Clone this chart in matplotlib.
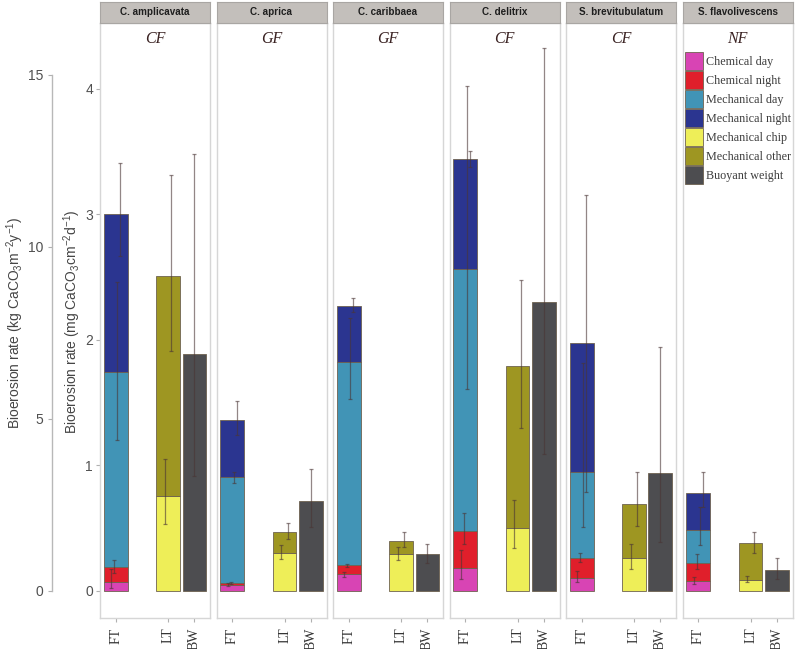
import matplotlib
matplotlib.use("Agg")
import matplotlib.pyplot as plt
import numpy as np

plt.rcParams['font.family'] = ['Liberation Sans', 'DejaVu Sans']
plt.rcParams['mathtext.fontset'] = 'custom'
plt.rcParams['mathtext.rm'] = 'Liberation Sans'
plt.rcParams['mathtext.it'] = 'Liberation Sans:italic'

# ---------------- data ----------------
species = ['C. amplicavata', 'C. aprica', 'C. caribbaea', 'C. delitrix',
           'S. brevitubulatum', 'S. flavolivescens']
growth_form = ['CF', 'GF', 'GF', 'CF', 'CF', 'NF']
methods = ['FT', 'LT', 'BW']

components = ['Chemical day', 'Chemical night', 'Mechanical day', 'Mechanical night',
              'Mechanical chip', 'Mechanical other', 'Buoyant weight']
colors = ['#d844b4', '#e01f2b', '#4194b6', '#2b3590',
          '#eeee58', '#9e9622', '#4d4d50']

# FT stacked segments (mg CaCO3 cm-2 d-1): chem day, chem night, mech day, mech night
ft_chem_day   = [0.070, 0.045, 0.135, 0.180, 0.106, 0.082]
ft_chem_night = [0.120, 0.021, 0.070, 0.300, 0.160, 0.144]
ft_mech_day   = [1.550, 0.842, 1.620, 2.080, 0.682, 0.260]
ft_mech_night = [1.260, 0.457, 0.445, 0.880, 1.025, 0.298]
# LT stacked segments: mech chip, mech other
lt_chip  = [0.757, 0.305, 0.292, 0.502, 0.260, 0.088]
lt_other = [1.753, 0.168, 0.106, 1.288, 0.433, 0.297]
# BW
bw_total = [1.890, 0.717, 0.292, 2.300, 0.938, 0.167]

# error bar ranges (low, high)
err_ft_chem_day   = [(0.026, 0.175), (0.040, 0.060), (0.115, 0.150), (0.093, 0.330), (0.069, 0.162), (0.056, 0.114)]
err_ft_chem_night = [(0.146, 0.250), (0.055, 0.075), (0.195, 0.215), (0.377, 0.624), (0.228, 0.300), (0.173, 0.295)]
err_ft_mech_day   = [(1.203, 2.457), (0.860, 0.950), (1.530, 2.170), (1.607, 4.020), (0.513, 1.814), (0.364, 0.672)]
err_ft_mech_night = [(2.670, 3.405), (1.243, 1.510), (2.220, 2.330), (3.380, 3.506), (0.790, 3.150), (0.667, 0.946)]
err_lt_chip  = [(0.536, 1.050), (0.258, 0.367), (0.247, 0.353), (0.340, 0.725), (0.178, 0.375), (0.069, 0.122)]
err_lt_other = [(1.910, 3.310), (0.417, 0.545), (0.353, 0.470), (1.300, 2.480), (0.515, 0.948), (0.305, 0.470)]
err_bw       = [(0.916, 3.480), (0.513, 0.969), (0.226, 0.372), (1.094, 4.320), (0.388, 1.940), (0.093, 0.263)]

inner_ticks = [0, 1, 2, 3, 4]
outer_ticks = [0, 5, 10, 15]
conv = 3.65  # mg cm-2 d-1 -> kg m-2 y-1

# ---------------- layout ----------------
W, H = 795, 649
fig = plt.figure(figsize=(W / 100, H / 100), dpi=100)
fig.patch.set_facecolor('white')

ylim = (-0.215, 4.525)
xpos = {'FT': 1, 'LT': 3, 'BW': 4}
xlim = (0.4, 4.6)
bw = 0.9
panel_top, panel_bot = 22.7, 618
strip_top = 1.5
pw = 110
lefts = [100 + i * 116.5 for i in range(6)]

err_col = '#4a3535'
edge_col = '#6e6250'

def ebar(ax, x, lo, hi):
    ax.errorbar([x], [(lo + hi) / 2], yerr=[[(hi - lo) / 2], [(hi - lo) / 2]],
                fmt='none', ecolor=err_col, elinewidth=0.9, capsize=1.6,
                capthick=0.9, alpha=0.6, zorder=5)

axes = []
for i, sp in enumerate(species):
    ax = fig.add_axes([lefts[i] / W, (H - panel_bot) / H, pw / W, (panel_bot - panel_top) / H])
    axes.append(ax)
    ax.set_xlim(*xlim)
    ax.set_ylim(*ylim)
    # FT stacked
    segs = [ft_chem_day[i], ft_chem_night[i], ft_mech_day[i], ft_mech_night[i]]
    errs = [err_ft_chem_day[i], err_ft_chem_night[i], err_ft_mech_day[i], err_ft_mech_night[i]]
    bottom = 0
    for k, (v, c) in enumerate(zip(segs, colors[:4])):
        ax.bar(xpos['FT'], v, bottom=bottom, width=bw, color=c, edgecolor=edge_col,
               linewidth=0.6, label=components[k] if i == 0 else None, zorder=2)
        bottom += v
    for k, (lo, hi) in enumerate(errs):
        ebar(ax, xpos['FT'] + (k - 1.5) * 0.12, lo, hi)
    # LT stacked
    ax.bar(xpos['LT'], lt_chip[i], width=bw, color=colors[4], edgecolor=edge_col,
           linewidth=0.6, label=components[4] if i == 0 else None, zorder=2)
    ax.bar(xpos['LT'], lt_other[i], bottom=lt_chip[i], width=bw, color=colors[5],
           edgecolor=edge_col, linewidth=0.6, label=components[5] if i == 0 else None, zorder=2)
    ebar(ax, xpos['LT'] - 0.12, *err_lt_chip[i])
    ebar(ax, xpos['LT'] + 0.12, *err_lt_other[i])
    # BW
    ax.bar(xpos['BW'], bw_total[i], width=bw, color=colors[6], edgecolor=edge_col,
           linewidth=0.6, label=components[6] if i == 0 else None, zorder=2)
    ebar(ax, xpos['BW'], *err_bw[i])

    # styling
    for s in ax.spines.values():
        s.set_color('#d6d6d6')
        s.set_linewidth(1.0)
    ax.set_xticks([xpos[m] for m in methods])
    ax.set_xticklabels(methods, rotation=90, family=['Liberation Serif'], fontsize=10,
                       color='#333333')
    ax.tick_params(axis='x', length=3, color='#b0b0b0', pad=4)
    if i == 0:
        ax.set_yticks(inner_ticks)
        ax.set_yticklabels([str(t) for t in inner_ticks], fontsize=10, color='#505050')
        ax.tick_params(axis='y', length=3, color='#b0b0b0', pad=2)
    else:
        ax.set_yticks([])
    ax.text(0.5, 0.972, growth_form[i], transform=ax.transAxes, ha='center', va='center',
            family=['Liberation Serif'], style='italic', fontsize=11.5, color='#3a2222')

    # strip
    sax = fig.add_axes([lefts[i] / W, (H - panel_top) / H, pw / W, (panel_top - strip_top) / H])
    sax.set_facecolor('#c3bfbb')
    sax.set_xticks([])
    sax.set_yticks([])
    for s in sax.spines.values():
        s.set_color('#a9a6a3')
        s.set_linewidth(0.8)
    sax.text(0.5, 0.5, sp, ha='center', va='center', fontsize=7.1, fontweight='bold',
             color='#1e1e1e', transform=sax.transAxes)

# outer axis (kg m-2 y-1)
oax = fig.add_axes([52 / W, (H - panel_bot) / H, 1 / W, (panel_bot - panel_top) / H])
oax.set_ylim(ylim[0] * conv, ylim[1] * conv)
oax.set_xticks([])
oax.set_yticks(outer_ticks)
oax.set_yticklabels([str(t) for t in outer_ticks], fontsize=10, color='#505050')
oax.tick_params(axis='y', length=3, color='#b0b0b0', pad=3)
for k in ['top', 'right', 'bottom']:
    oax.spines[k].set_visible(False)
oax.spines['left'].set_color('#b8b8b8')
oax.spines['left'].set_linewidth(1.0)
oax.spines['left'].set_bounds(0, 15)
oax.patch.set_visible(False)

fig.text(15 / W, 1 - 323 / H, 'Bioerosion rate (kg CaCO$_3$m$^{-2}$y$^{-1}$)', rotation=90,
         ha='center', va='center', fontsize=10, color='#454545')
fig.text(72 / W, 1 - 322 / H, 'Bioerosion rate (mg CaCO$_3$cm$^{-2}$d$^{-1}$)', rotation=90,
         ha='center', va='center', fontsize=10, color='#454545')

# legend
lfs = 8.7
handles, labels = axes[0].get_legend_handles_labels()
fig.legend(handles, labels, loc='upper left', bbox_to_anchor=(685 / W, 1 - 52 / H),
           frameon=False, prop={'family': 'Liberation Serif', 'size': lfs},
           handlelength=1.49, handleheight=1.915, labelspacing=0.083, handletextpad=0.28,
           borderpad=0, borderaxespad=0, labelcolor='#3c3c3c')

fig.savefig('out.png', dpi=100)
